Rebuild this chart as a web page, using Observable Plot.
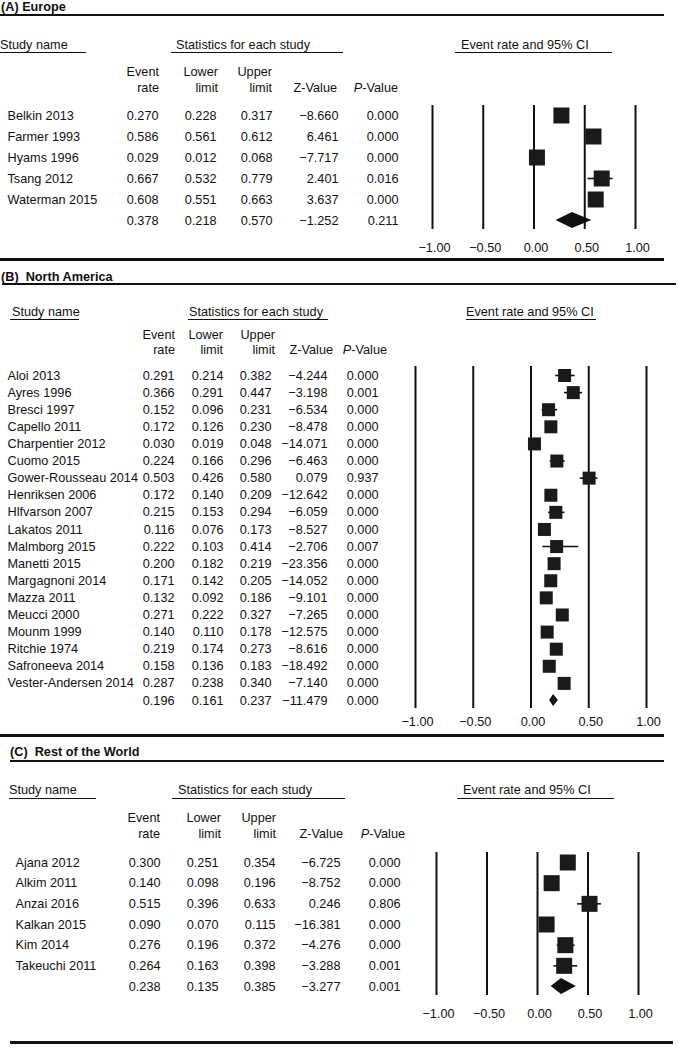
<!DOCTYPE html>
<html><head><meta charset="utf-8">
<script src="https://cdn.jsdelivr.net/npm/d3@7"></script>
<script src="https://cdn.jsdelivr.net/npm/@observablehq/plot@0.6"></script>
<style>
body{margin:0;background:#fff;}
#page{position:relative;width:678px;height:1050px;font-family:"Liberation Sans",Arial,Helvetica,sans-serif;font-size:12.7px;color:#111;overflow:hidden;background:#fff;}
.abs{position:absolute;white-space:pre;line-height:14px;}
.title{font-weight:bold;font-size:12.7px;}
.rule{position:absolute;background:#111;}
#page svg{position:absolute;left:0;}
</style></head><body><div id="page"></div>
<script>
// ---------- data ----------
const groupHeaders = ["Study name", "Statistics for each study", "Event rate and 95% CI"];
const columnHeaders = [["Event", "rate"], ["Lower", "limit"], ["Upper", "limit"], ["", "Z-Value"], ["", "P-Value"]];
const tickValues = [-1, -0.5, 0, 0.5, 1];

const europeNames = ["Belkin 2013", "Farmer 1993", "Hyams 1996", "Tsang 2012", "Waterman 2015", ""];
const europeRate  = [0.270, 0.586, 0.029, 0.667, 0.608, 0.378];
const europeLower = [0.228, 0.561, 0.012, 0.532, 0.551, 0.218];
const europeUpper = [0.317, 0.612, 0.068, 0.779, 0.663, 0.570];
const europeZ     = [-8.660, 6.461, -7.717, 2.401, 3.637, -1.252];
const europeP     = [0.000, 0.000, 0.000, 0.016, 0.000, 0.211];

const naNames = ["Aloi 2013", "Ayres 1996", "Bresci 1997", "Capello 2011", "Charpentier 2012", "Cuomo 2015",
  "Gower-Rousseau 2014", "Henriksen 2006", "Hlfvarson 2007", "Lakatos 2011", "Malmborg 2015", "Manetti 2015",
  "Margagnoni 2014", "Mazza 2011", "Meucci 2000", "Mounm 1999", "Ritchie 1974", "Safroneeva 2014",
  "Vester-Andersen 2014", ""];
const naRate  = [0.291, 0.366, 0.152, 0.172, 0.030, 0.224, 0.503, 0.172, 0.215, 0.116, 0.222, 0.200, 0.171, 0.132, 0.271, 0.140, 0.219, 0.158, 0.287, 0.196];
const naLower = [0.214, 0.291, 0.096, 0.126, 0.019, 0.166, 0.426, 0.140, 0.153, 0.076, 0.103, 0.182, 0.142, 0.092, 0.222, 0.110, 0.174, 0.136, 0.238, 0.161];
const naUpper = [0.382, 0.447, 0.231, 0.230, 0.048, 0.296, 0.580, 0.209, 0.294, 0.173, 0.414, 0.219, 0.205, 0.186, 0.327, 0.178, 0.273, 0.183, 0.340, 0.237];
const naZ     = [-4.244, -3.198, -6.534, -8.478, -14.071, -6.463, 0.079, -12.642, -6.059, -8.527, -2.706, -23.356, -14.052, -9.101, -7.265, -12.575, -8.616, -18.492, -7.140, -11.479];
const naP     = [0.000, 0.001, 0.000, 0.000, 0.000, 0.000, 0.937, 0.000, 0.000, 0.000, 0.007, 0.000, 0.000, 0.000, 0.000, 0.000, 0.000, 0.000, 0.000, 0.000];

const rowNames = ["Ajana 2012", "Alkim 2011", "Anzai 2016", "Kalkan 2015", "Kim 2014", "Takeuchi 2011", ""];
const rowRate  = [0.300, 0.140, 0.515, 0.090, 0.276, 0.264, 0.238];
const rowLower = [0.251, 0.098, 0.396, 0.070, 0.196, 0.163, 0.135];
const rowUpper = [0.354, 0.196, 0.633, 0.115, 0.372, 0.398, 0.385];
const rowZ     = [-6.725, -8.752, 0.246, -16.381, -4.276, -3.288, -3.277];
const rowP     = [0.000, 0.000, 0.806, 0.000, 0.000, 0.001, 0.001];

const panelTitles = ["(A) Europe", "(B)  North America", "(C)  Rest of the World"];

// ---------- layout (page pixels) ----------
const layouts = [
  {titleX: 1, titleY: 7, titleRule: [0, 664, 14, 2],
   groupX: [0, 176, 461], groupY: 45, underY: 52, under: [[0, 86], [171, 343], [455, 612]],
   colY: [72, 88], colRight: [159, 218, 272, 337, 398], valRight: [158, 216, 272, 338, 398], nameX: 7,
   svgTop: 95, svgH: 160, rowFirst: 20, rowLast: 125, lineTop: 10, lineBot: 134, tickY: 152,
   xRange: [432, 635], sq: 16, dh: 8, bottomRule: [0, 664, 258, 3]},
  {titleX: 1, titleY: 277, titleRule: [2, 676, 283, 2],
   groupX: [12, 189, 466], groupY: 312, underY: 319, under: [[10, 79], [188, 328], [466, 596]],
   colY: [335, 350], colRight: [175, 223, 275, 333, 387], valRight: [174, 223, 271, 327, 378], nameX: 7,
   svgTop: 360, svgH: 372, rowFirst: 15, rowLast: 340, lineTop: 6, lineBot: 348, tickY: 361,
   xRange: [415, 646], sq: 13, dh: 6, bottomRule: [0, 664, 734, 3]},
  {titleX: 10, titleY: 752, titleRule: [10, 664, 760, 2],
   groupX: [9, 178, 463], groupY: 790, underY: 798, under: [[9, 96], [172, 345], [457, 614]],
   colY: [818, 834], colRight: [160, 221, 276, 343, 405], valRight: [160, 218, 275, 340, 400], nameX: 15,
   svgTop: 845, svgH: 180, rowFirst: 17, rowLast: 141, lineTop: 7, lineBot: 150, tickY: 168,
   xRange: [436, 638], sq: 16, dh: 8, bottomRule: [10, 673, 1041, 3]}
];

const page = document.getElementById("page");
const f3 = d3.format(".3f");
const f2 = d3.format(".2f");
const FONT = '"Liberation Sans", Arial, Helvetica, sans-serif';
const FS = 12.7;

function addText(txt, x, y, cls, anchorRight) {
  const el = document.createElement("div");
  el.className = "abs " + (cls || "");
  if (txt.startsWith("P-")) el.innerHTML = "<i>P</i>" + txt.slice(1); else el.textContent = txt;
  el.style.top = (y - 7) + "px";
  if (anchorRight) el.style.right = (678 - x) + "px"; else el.style.left = x + "px";
  page.appendChild(el);
}
function addRule(x1, x2, y, h) {
  const el = document.createElement("div");
  el.className = "rule";
  el.style.left = x1 + "px"; el.style.width = (x2 - x1) + "px";
  el.style.top = y + "px"; el.style.height = h + "px";
  page.appendChild(el);
}

function panel(k, names, rate, lower, upper, z, p) {
  const L = layouts[k];
  // header
  addText(panelTitles[k], L.titleX, L.titleY, "title");
  addRule(L.titleRule[0], L.titleRule[1], L.titleRule[2], L.titleRule[3]);
  groupHeaders.forEach((g, j) => {
    addText(g, L.groupX[j], L.groupY);
    addRule(L.under[j][0], L.under[j][1], L.underY, 1);
  });
  columnHeaders.forEach((c, j) => {
    c.forEach((line, li) => { if (line) addText(line, L.colRight[j], L.colY[li], "", true); });
  });
  addRule(L.bottomRule[0], L.bottomRule[1], L.bottomRule[2], L.bottomRule[3]);

  // rows
  const n = names.length;
  const rows = names.map((name, i) => ({i, name, rate: rate[i], lower: lower[i], upper: upper[i], z: z[i], p: p[i], pooled: i === n - 1}));
  const studies = rows.filter(d => !d.pooled);
  const pooled = rows.filter(d => d.pooled);
  const spacing = (L.rowLast - L.rowFirst) / (n - 1);
  const h = L.dh / spacing;
  const diamond = pooled.flatMap(d => [
    {y: d.i - h, x1: d.rate, x2: d.rate},
    {y: d.i, x1: d.lower, x2: d.upper},
    {y: d.i + h, x1: d.rate, x2: d.rate}
  ]);
  const cols = ["rate", "lower", "upper", "z", "p"];

  const chart = Plot.plot({
    width: 678, height: L.svgH,
    marginTop: 0, marginRight: 0, marginBottom: 0, marginLeft: 0,
    style: {fontFamily: FONT, fontSize: FS + "px", background: "transparent", color: "#111", overflow: "visible"},
    x: {type: "linear", domain: [-1, 1], range: L.xRange, axis: null},
    y: {type: "linear", domain: [0, n - 1], range: [L.rowFirst, L.rowLast], axis: null},
    marks: [
      Plot.ruleX(tickValues, {x: d => d, y1: 0, y2: n - 1,
        insetTop: -(L.rowFirst - L.lineTop), insetBottom: -(L.lineBot - L.rowLast),
        stroke: "#111", strokeWidth: 2}),
      Plot.ruleY(studies, {y: "i", x1: "lower", x2: "upper", stroke: "#111", strokeWidth: 1.6}),
      Plot.dot(studies, {x: "rate", y: "i", symbol: "square", r: L.sq / Math.sqrt(Math.PI), fill: "#1a1a1a", stroke: "none"}),
      Plot.areaX(diamond, {y: "y", x1: "x1", x2: "x2", fill: "#111"}),
      Plot.text(studies, {y: "i", text: "name", frameAnchor: "left", lineAnchor: "middle", dx: L.nameX, textAnchor: "start", fontSize: FS, fill: "#111"}),
      ...cols.map((c, j) => Plot.text(rows, {y: "i", text: d => f3(d[c]), frameAnchor: "left", lineAnchor: "middle", dx: L.valRight[j], textAnchor: "end", fontSize: FS, fill: "#111"})),
      Plot.text(tickValues, {x: d => d, text: d => f2(d), frameAnchor: "top", lineAnchor: "middle", dy: L.tickY, dx: 2, fontSize: FS, fill: "#111"})
    ]
  });
  chart.style.top = L.svgTop + "px";
  page.appendChild(chart);
}

panel(0, europeNames, europeRate, europeLower, europeUpper, europeZ, europeP);
panel(1, naNames, naRate, naLower, naUpper, naZ, naP);
panel(2, rowNames, rowRate, rowLower, rowUpper, rowZ, rowP);
</script>
</body></html>
